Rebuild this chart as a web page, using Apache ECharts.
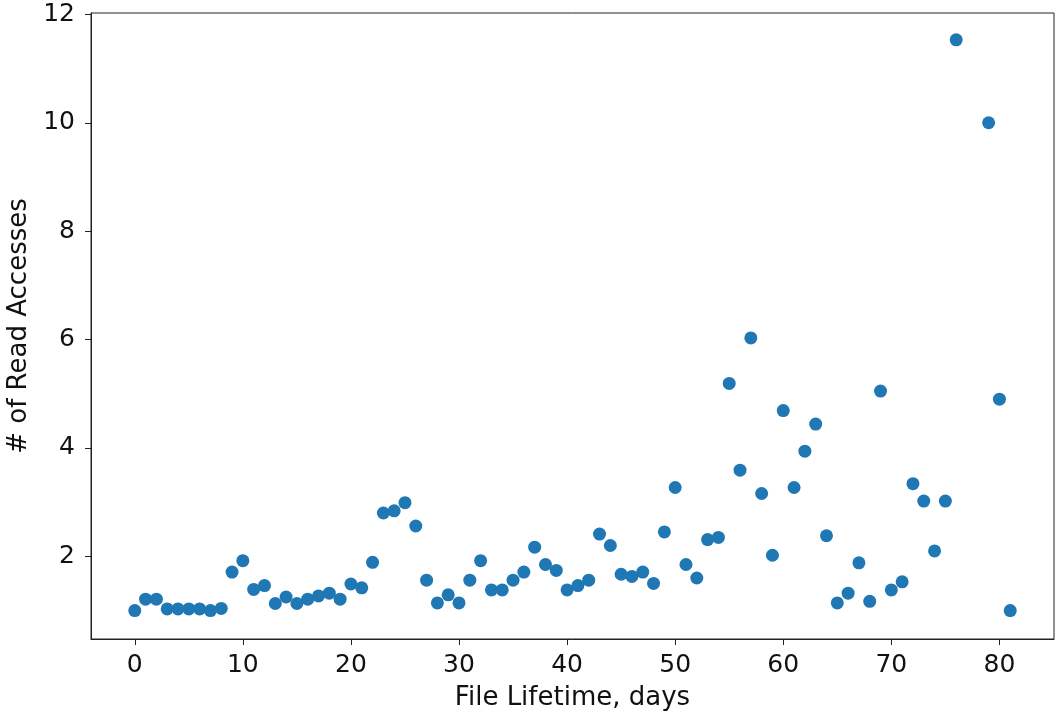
<!DOCTYPE html>
<html>
<head>
<meta charset="utf-8">
<script src="https://cdn.jsdelivr.net/npm/echarts@6/dist/echarts.min.js"></script>
<style>html,body{margin:0;padding:0;background:#fff}#c{width:1056px;height:712px}</style>
</head>
<body>
<div id="c"></div>
<script>
const days = [0,1,2,3,4,5,6,7,8,9,10,11,12,13,14,15,16,17,18,19,20,21,22,23,24,25,26,27,28,29,30,31,32,33,34,35,36,37,38,39,40,41,42,43,44,45,46,47,48,49,50,51,52,53,54,55,56,57,58,59,60,61,62,63,64,65,66,67,68,69,70,71,72,73,74,75,76,79,80,81];
const reads = [1.0,1.21,1.21,1.03,1.03,1.03,1.03,1.0,1.04,1.71,1.92,1.39,1.46,1.13,1.25,1.13,1.21,1.27,1.32,1.21,1.49,1.42,1.89,2.80,2.84,2.99,2.56,1.56,1.14,1.29,1.14,1.56,1.92,1.38,1.38,1.56,1.71,2.17,1.85,1.74,1.38,1.46,1.56,2.41,2.20,1.67,1.63,1.71,1.50,2.45,3.27,1.85,1.60,2.31,2.35,5.19,3.59,6.03,3.16,2.02,4.69,3.27,3.94,4.44,2.38,1.14,1.32,1.88,1.17,5.05,1.38,1.53,3.34,3.02,2.10,3.02,11.53,10.0,4.90,1.0];
const xTicks = [0,10,20,30,40,50,60,70,80];
const yTicks = [2,4,6,8,10,12];

const chart = echarts.init(document.getElementById('c'), null, {renderer:'canvas'});
const font = 'DejaVu Sans';
const fs = 25;
chart.setOption({
  animation:false,
  grid:{left:91, top:13, right:2, bottom:73, show:true, borderColor:'#222', borderWidth:1, containLabel:false, outerBoundsMode:'none'},
  xAxis:{
    type:'value', min:-4.05, max:85.05,
    name:'File Lifetime, days', nameLocation:'middle', nameGap:46,
    nameTextStyle:{fontFamily:font, fontSize:26, color:'#111'},
    axisLine:{show:true, onZero:false, lineStyle:{color:'#222'}},
    axisTick:{show:true, length:6, customValues:xTicks, lineStyle:{color:'#222'}},
    axisLabel:{customValues:xTicks, fontFamily:font, fontSize:fs, color:'#111', margin:14},
    splitLine:{show:false}
  },
  yAxis:{
    type:'value', min:0.475, max:12.025,
    name:'# of Read Accesses', nameLocation:'middle', nameGap:59, nameRotate:90,
    nameTextStyle:{fontFamily:font, fontSize:26, color:'#111'},
    axisLine:{show:true, onZero:false, lineStyle:{color:'#222'}},
    axisTick:{show:true, length:6, customValues:yTicks, lineStyle:{color:'#222'}},
    axisLabel:{customValues:yTicks, fontFamily:font, fontSize:fs, color:'#111', margin:16},
    splitLine:{show:false}
  },
  series:[{
    type:'scatter', symbolSize:13,
    itemStyle:{color:'#1f77b4', opacity:1},
    data: days.map((d,i)=>[d, reads[i]])
  }]
});
</script>
</body>
</html>
